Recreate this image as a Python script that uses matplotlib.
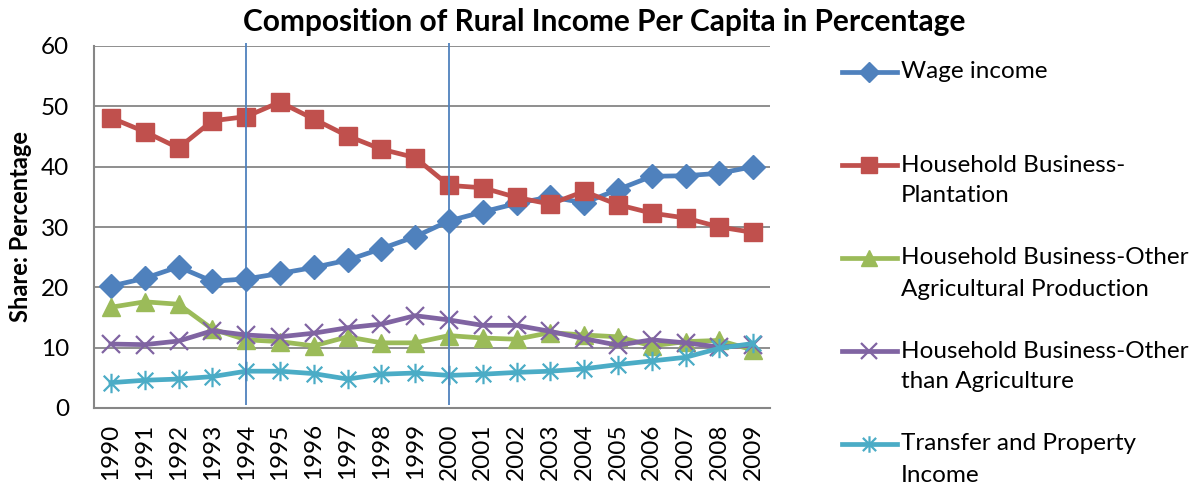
import matplotlib

matplotlib.use("Agg")
import matplotlib.pyplot as plt
from matplotlib.lines import Line2D
from matplotlib.path import Path

plt.rcParams["font.family"] = ["Lato", "DejaVu Sans"]

# shares of rural income per capita, percent
years = [str(y) for y in range(1990, 2010)]
wage = [20.2, 21.5, 23.4, 21.0, 21.4, 22.3, 23.3, 24.5, 26.4, 28.4,
        31.0, 32.5, 33.9, 35.0, 34.0, 36.2, 38.4, 38.5, 38.9, 40.0]
plantation = [48.1, 45.8, 43.1, 47.6, 48.3, 50.7, 47.9, 45.1, 42.9, 41.5,
              36.9, 36.5, 34.9, 33.8, 35.9, 33.7, 32.3, 31.5, 30.0, 29.1]
other_agri = [16.7, 17.6, 17.2, 13.1, 11.3, 11.0, 10.3, 11.8, 10.8, 10.8,
              12.0, 11.6, 11.4, 12.5, 12.1, 11.8, 10.3, 11.0, 11.2, 9.6]
non_agri = [10.6, 10.5, 11.1, 12.8, 12.1, 11.8, 12.4, 13.3, 13.9, 15.3,
            14.6, 13.7, 13.7, 12.7, 11.5, 10.4, 11.3, 10.8, 10.1, 10.4]
transfer = [4.2, 4.6, 4.8, 5.2, 6.1, 6.1, 5.7, 4.8, 5.6, 5.8,
            5.4, 5.6, 5.9, 6.1, 6.5, 7.2, 7.8, 8.4, 9.9, 10.7]
marked_years = ["1994", "2000"]

labels = ["Wage income",
          "Household Business-\nPlantation",
          "Household Business-Other\nAgricultural Production",
          "Household Business-Other\nthan Agriculture",
          "Transfer and Property\nIncome"]

# asterisk marker: vertical stroke plus an X
star = Path([(0, -1), (0, 1), (-0.8, -0.8), (0.8, 0.8), (-0.8, 0.8), (0.8, -0.8)],
            [Path.MOVETO, Path.LINETO] * 3)

styles = [
    dict(color="#4F81BD", marker="D", ms=12),
    dict(color="#C0504D", marker="s", ms=13),
    dict(color="#9BBB59", marker="^", ms=13),
    dict(color="#8064A2", marker="x", ms=13, mew=1.6),
    dict(color="#4BACC6", marker=star, ms=14, mew=1.6),
]
series = [wage, plantation, other_agri, non_agri, transfer]

W, H = 1195, 487
fig = plt.figure(figsize=(W / 100, H / 100), dpi=100)
ax = fig.add_axes([94 / W, 1 - 408 / H, 676 / W, 362 / H])

x = list(range(len(years)))
for vals, st in zip(series, styles):
    ax.plot(x, vals, lw=3.4, solid_joinstyle="round", **st)

for yr in marked_years:
    i = years.index(yr)
    ax.vlines(i, 0.5, 60.5, color="#4F81BD", lw=1.3, clip_on=False, zorder=5)

ax.set_xlim(-0.5, len(years) - 0.5)
ax.set_ylim(0, 60)
ax.set_yticks(range(0, 61, 10))
ax.set_xticks(x)
ax.set_xticklabels(years, rotation=90, fontsize=17.5)
ax.tick_params(axis="y", labelsize=17.5, length=0, pad=18)
ax.tick_params(axis="x", length=0, pad=11)
ax.yaxis.grid(True, color="#868686", lw=1.3)
ax.set_axisbelow(True)
for side in ["top", "right"]:
    ax.spines[side].set_visible(False)
for side in ["left", "bottom"]:
    ax.spines[side].set_color("#868686")
    ax.spines[side].set_linewidth(1.5)

ax.set_ylabel("Share: Percentage", fontsize=17, fontweight="bold")
ax.yaxis.set_label_coords(-62 / 676, 0.5)
fig.text(604 / W, 1 - 22 / H, "Composition of Rural Income Per Capita in Percentage",
         ha="center", va="center", fontsize=21.5, fontweight="bold")

# legend drawn entry by entry so the handle sits on the first text line
entry_y = [72, 165, 258, 351, 444]
for ypx, lab, st in zip(entry_y, labels, styles):
    yf = 1 - ypx / H
    fig.add_artist(Line2D([842 / W, 897 / W], [yf, yf], lw=3.4,
                          color=st["color"], transform=fig.transFigure))
    fig.add_artist(Line2D([869.5 / W], [yf], lw=0, marker=st["marker"],
                          ms=st["ms"] * 0.85, mew=st.get("mew", 1),
                          color=st["color"], transform=fig.transFigure))
    for k, line in enumerate(lab.split("\n")):
        fig.text(901 / W, 1 - (ypx + 31 * k) / H, line, ha="left",
                 va="center", fontsize=17.5)

fig.savefig("out.png", dpi=100)
